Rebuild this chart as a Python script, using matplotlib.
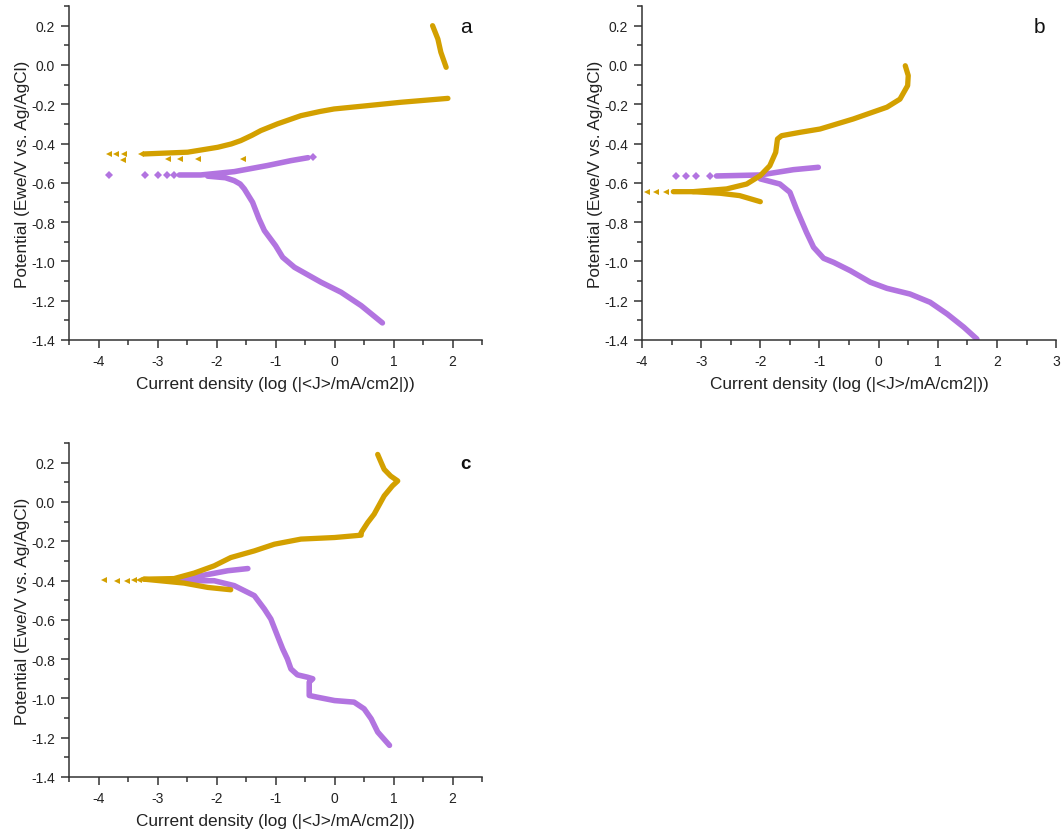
import matplotlib
matplotlib.use("Agg")
import matplotlib.pyplot as plt
from matplotlib.ticker import MultipleLocator, FormatStrFormatter

plt.rcParams['font.family'] = ['Liberation Sans', 'DejaVu Sans']
plt.rcParams['axes.unicode_minus'] = False

GOLD = '#d3a000'
PURPLE = '#b274e0'

# ---- panel a ----
a_gold_x = [-3.23, -2.49, -1.98, -1.75, -1.59, -1.40, -1.25, -0.97, -0.57, -0.25, -0.01, 0.56, 1.12, 1.92]
a_gold_y = [-0.453, -0.444, -0.419, -0.402, -0.385, -0.358, -0.334, -0.300, -0.258, -0.237, -0.224, -0.207,
            -0.190, -0.170]
a_gold_top_x = [1.66, 1.75, 1.80, 1.89]
a_gold_top_y = [0.200, 0.132, 0.065, -0.012]
a_gold_pts_x = [-3.82, -3.71, -3.57, -3.59, -3.28, -2.83, -2.62, -2.32, -1.56]
a_gold_pts_y = [-0.453, -0.453, -0.453, -0.482, -0.453, -0.480, -0.480, -0.480, -0.480]
a_pur_up_x = [-2.63, -2.27, -1.70, -1.14, -0.74, -0.45]
a_pur_up_y = [-0.560, -0.560, -0.543, -0.512, -0.487, -0.472]
a_pur_dn_x = [-2.15, -1.85, -1.70, -1.60, -1.53, -1.39, -1.28, -1.19, -1.00, -0.88, -0.68, -0.23, 0.11,
              0.45, 0.81]
a_pur_dn_y = [-0.566, -0.574, -0.589, -0.606, -0.631, -0.699, -0.784, -0.843, -0.920, -0.979, -1.030,
              -1.106, -1.157, -1.225, -1.313]
a_pur_pts_x = [-3.82, -3.21, -3.00, -2.84, -2.72, -0.37]
a_pur_pts_y = [-0.560, -0.562, -0.562, -0.562, -0.562, -0.470]

# ---- panel b ----
b_gold_dn_x = [-3.47, -3.14, -2.68, -2.35, -2.00]
b_gold_dn_y = [-0.645, -0.645, -0.653, -0.665, -0.696]
b_gold_up_x = [-3.14, -2.57, -2.23, -2.00, -1.84, -1.74, -1.71, -1.64, -1.33, -0.99, -0.43, 0.14,
               0.36, 0.49, 0.50, 0.45]
b_gold_up_y = [-0.645, -0.631, -0.606, -0.563, -0.513, -0.445, -0.377, -0.360, -0.343, -0.326, -0.275,
               -0.215, -0.174, -0.105, -0.054, -0.004]
b_gold_pts_x = [-3.92, -3.76, -3.59]
b_gold_pts_y = [-0.645, -0.645, -0.645]
b_pur_up_x = [-2.74, -2.00, -1.44, -1.02]
b_pur_up_y = [-0.565, -0.560, -0.533, -0.521]
b_pur_dn_x = [-2.00, -1.67, -1.50, -1.39, -1.22, -1.10, -0.93, -0.76, -0.48, -0.14, 0.14, 0.53, 0.87,
              1.16, 1.44, 1.66]
b_pur_dn_y = [-0.580, -0.606, -0.648, -0.733, -0.852, -0.928, -0.984, -1.005, -1.047, -1.106, -1.137, -1.166,
              -1.208, -1.268, -1.335, -1.395]
b_pur_pts_x = [-3.42, -3.26, -3.08, -2.85]
b_pur_pts_y = [-0.567, -0.567, -0.567, -0.567]

# ---- panel c ----
c_gold_dn_x = [-3.23, -2.55, -2.15, -1.76]
c_gold_dn_y = [-0.393, -0.413, -0.435, -0.447]
c_gold_up_x = [-3.23, -2.72, -2.38, -2.04, -1.76, -1.36, -1.02, -0.57, 0.00, 0.45, 0.45, 0.56, 0.67,
               0.73, 0.84, 0.98, 1.07, 0.95, 0.84, 0.79, 0.73]
c_gold_up_y = [-0.393, -0.390, -0.362, -0.325, -0.283, -0.249, -0.215, -0.189, -0.181, -0.169, -0.156,
               -0.105, -0.062, -0.029, 0.031, 0.082, 0.107, 0.132, 0.166, 0.200, 0.242]
c_gold_pts_x = [-3.90, -3.69, -3.52, -3.40, -3.31]
c_gold_pts_y = [-0.398, -0.400, -0.400, -0.398, -0.395]
c_pur_up_x = [-2.66, -2.27, -1.81, -1.47]
c_pur_up_y = [-0.396, -0.376, -0.350, -0.339]
c_pur_dn_x = [-2.49, -2.04, -1.70, -1.36, -1.19, -1.08, -0.97, -0.88, -0.80, -0.74, -0.63, -0.46, -0.37,
              -0.43, -0.43, -0.29, 0.00, 0.33, 0.50, 0.62, 0.73, 0.93]
c_pur_dn_y = [-0.401, -0.401, -0.426, -0.477, -0.545, -0.596, -0.680, -0.748, -0.799, -0.850, -0.880,
              -0.892, -0.900, -0.917, -0.985, -0.994, -1.011, -1.019, -1.053, -1.104, -1.171, -1.239]

panels = [
    ('a', [0.065, 0.5926, 0.389, 0.399], (-4.5, 2.5), False,
     [(a_gold_x, a_gold_y), (a_gold_top_x, a_gold_top_y)], (a_gold_pts_x, a_gold_pts_y),
     [(a_pur_up_x, a_pur_up_y), (a_pur_dn_x, a_pur_dn_y)], (a_pur_pts_x, a_pur_pts_y)),
    ('b', [0.6045, 0.5926, 0.39, 0.399], (-4, 3), False,
     [(b_gold_dn_x, b_gold_dn_y), (b_gold_up_x, b_gold_up_y)], (b_gold_pts_x, b_gold_pts_y),
     [(b_pur_up_x, b_pur_up_y), (b_pur_dn_x, b_pur_dn_y)], (b_pur_pts_x, b_pur_pts_y)),
    ('c', [0.065, 0.0705, 0.389, 0.399], (-4.5, 2.5), True,
     [(c_gold_dn_x, c_gold_dn_y), (c_gold_up_x, c_gold_up_y)], (c_gold_pts_x, c_gold_pts_y),
     [(c_pur_up_x, c_pur_up_y), (c_pur_dn_x, c_pur_dn_y)], None),
]

fig = plt.figure(figsize=(10.62, 8.37), dpi=100)

for name, rect, xlim, bold, gold_lines, gold_pts, pur_lines, pur_pts in panels:
    ax = fig.add_axes(rect)
    for xs, ys in pur_lines:
        ax.plot(xs, ys, color=PURPLE, lw=4.0, solid_capstyle='round', solid_joinstyle='round')
    if pur_pts:
        ax.plot(pur_pts[0], pur_pts[1], 'D', color=PURPLE, ms=3.8, mew=0)
    for xs, ys in gold_lines:
        ax.plot(xs, ys, color=GOLD, lw=3.8, solid_capstyle='round', solid_joinstyle='round')
    ax.plot(gold_pts[0], gold_pts[1], '<', color=GOLD, ms=4.8, mew=0)

    ax.set_xlim(*xlim)
    ax.set_ylim(-1.4, 0.3)
    ax.spines['top'].set_visible(False)
    ax.spines['right'].set_visible(False)
    for s in ('left', 'bottom'):
        ax.spines[s].set_color('#333333')
        ax.spines[s].set_linewidth(1.1)
    ax.xaxis.set_major_locator(MultipleLocator(1))
    ax.xaxis.set_minor_locator(MultipleLocator(0.5))
    ax.yaxis.set_major_locator(MultipleLocator(0.2))
    ax.yaxis.set_minor_locator(MultipleLocator(0.1))
    ax.xaxis.set_major_formatter(FormatStrFormatter('%g'))
    ax.yaxis.set_major_formatter(FormatStrFormatter('%.1f'))
    ax.tick_params(which='major', direction='out', length=6, width=1.1, color='#333333',
                   labelsize=10, labelcolor='#222222', pad=4)
    ax.tick_params(which='minor', direction='out', length=3.5, width=1.1, color='#333333')
    ax.set_xlabel('Current density (log (|<J>/mA/cm2|))', fontsize=12.4, color='#222222', labelpad=6)
    ax.set_ylabel('Potential (Ewe/V vs. Ag/AgCl)', fontsize=12.4, color='#222222', labelpad=1)
    ax.text(0.96, 0.94, name, transform=ax.transAxes, ha='center', va='center',
            fontsize=13.5 if bold else 15, fontweight='bold' if bold else 'normal', color='#111111')

fig.savefig('out.png', dpi=100)
